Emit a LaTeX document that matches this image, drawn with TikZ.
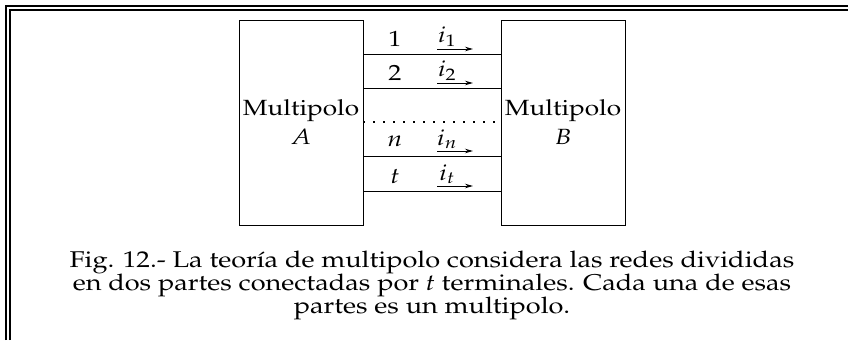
\documentclass[tikz,border=0pt]{standalone}
\usepackage[T1]{fontenc}
\usepackage{mathpazo}
\usepackage{graphicx}
\usetikzlibrary{arrows.meta}

% the scanned figure is set a bit wide
\newcommand{\wide}[1]{\scalebox{1.19}[1]{#1}}

\tikzset{
  polo/.style={draw, line width=0.9pt, minimum width=124pt, minimum height=205pt,
    align=center, inner sep=0pt, font=\fontsize{22}{29}\selectfont},
  hilo/.style={line width=0.9pt},
  corr/.style={-{Stealth[length=8pt,width=4.5pt]}, line width=1pt},
  etiq/.style={font=\fontsize{22}{23}\selectfont, inner sep=0pt},
}

\begin{document}
\begin{tikzpicture}[x=1pt, y=-1pt]
    \useasboundingbox (0,0) rectangle (848,340);
    % double frame
    \draw[line width=2pt] (6,340) -- (6,6.3) -- (848,6.3);
    \draw[line width=2pt] (9.6,340) -- (9.6,9.8) -- (848,9.8);

    \node[polo] (mA) at (301,122.5) {\wide{Multipolo}\\\wide{$A$}};
    \node[polo] (mB) at (563,122.5) {\wide{Multipolo}\\\wide{$B$}};

    % terminals
    \foreach \y/\k/\lab/\cur in {54/1/1/i_1, 88/2/2/i_2, 156/n/$n$/i_n, 191/t/$t$/i_t} {
        \draw[hilo] (mA.east |- 0,\y) -- (mB.west |- 0,\y);
        \node[etiq] (num\k) at (395,\y-15) {\wide{\lab}};
        \node[etiq] (cur\k) at (447,\y-17) {\wide{$\cur$}};
        \coordinate (a\k) at (437,\y-5);
        \coordinate (b\k) at (473,\y-5);
        \draw[corr] (a\k) -- (b\k);
    }
    \draw[line width=1.2pt, dash pattern=on 1.5pt off 8.5pt] (mA.east |- 0,122) -- (mB.west |- 0,122);

    \node[etiq, align=center, font=\fontsize{22.8}{23}\selectfont] (pie) at (432,285) {%
        \wide{Fig. 12.- La teor\'{\i}a de multipolo considera las redes divididas}\\
        \wide{en dos partes conectadas por \textit{t} terminales. Cada una de esas}\\
        \wide{partes es un multipolo.}};
\end{tikzpicture}
\end{document}
